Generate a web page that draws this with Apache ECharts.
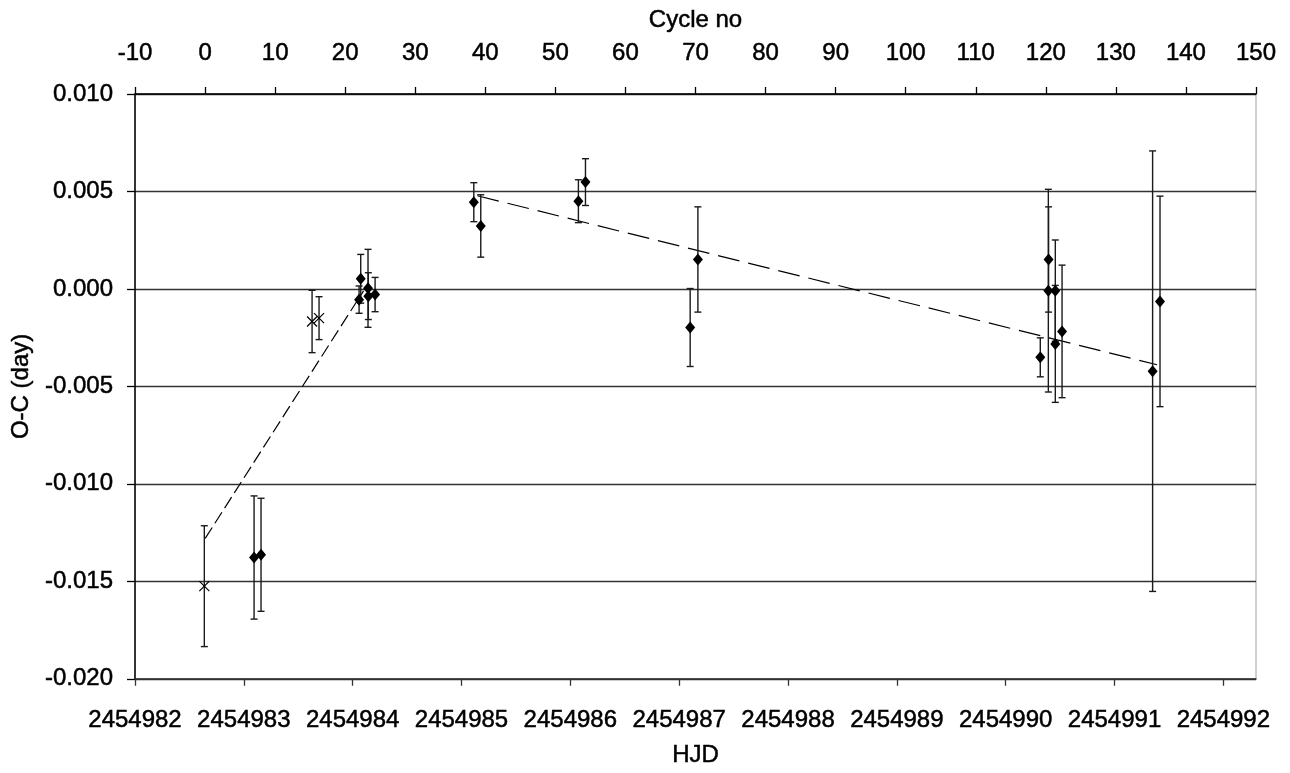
<!DOCTYPE html>
<html>
<head>
<meta charset="utf-8">
<script src="https://cdn.jsdelivr.net/npm/echarts@6/dist/echarts.min.js"></script>
<style>
html,body{margin:0;padding:0;background:#fff;}
#c{width:1290px;height:773px;}
</style>
</head>
<body>
<div id="c"></div>
<script>
// ---- data ----
const diamondHJD = [2454983.094, 2454983.158, 2454984.074, 2454984.059, 2454984.141, 2454984.144, 2454984.206,
  2454985.113, 2454985.177, 2454986.074, 2454986.139, 2454987.101, 2454987.172,
  2454990.318, 2454990.394, 2454990.392, 2454990.456, 2454990.456, 2454990.518, 2454991.350, 2454991.418];
const diamondOC = [-0.01378, -0.01364, 0.00052, -0.00055, 0.00003, -0.00037, -0.00029,
  0.00445, 0.00323, 0.00450, 0.00548, -0.00198, 0.00151,
  -0.00351, 0.00151, -0.00009, -0.00009, -0.00282, -0.00218, -0.00422, -0.00064];
const diamondErr = [0.00316, 0.0029, 0.00125, 0.0007, 0.0020, 0.0012, 0.00088,
  0.0010, 0.0016, 0.0011, 0.0012, 0.0020, 0.0027,
  0.0010, 0.0027, 0.0052, 0.0026, 0.0030, 0.0034, 0.0113, 0.0054];
const crossHJD = [2454982.637, 2454983.627, 2454983.691];
const crossOC = [-0.01525, -0.00167, -0.00150];
const crossErr = [0.0031, 0.0016, 0.0011];
const fit1HJD = [2454982.645, 2454984.10];
const fit1OC = [-0.0128, -0.0001];
const fit2HJD = [2454985.146, 2454991.391];
const fit2OC = [0.00478, -0.00389];
const hjdTicks = [2454982, 2454992.3, 1];   // min, max, interval
const cycleTicks = [-10, 150, 10];
const ocTicks = [-0.02, 0.01, 0.005];

// ---- build ----
const FONT = 'Liberation Sans, Arial, sans-serif';
const FS = 24;
const zip = (a, b) => a.map((v, i) => [v, b[i]]);
const errData = diamondHJD.map((x, i) => [x, diamondOC[i] - diamondErr[i], diamondOC[i] + diamondErr[i]])
  .concat(crossHJD.map((x, i) => [x, crossOC[i] - crossErr[i], crossOC[i] + crossErr[i]]));

const chart = echarts.init(document.getElementById('c'), null, {renderer: 'canvas'});
const axisTxt = {color: '#000', fontFamily: FONT, fontSize: FS, textBorderColor: '#000', textBorderWidth: 0.5};
chart.setOption({
  animation: false,
  backgroundColor: '#fff',
  grid: {left: 135, right: 34, top: 94, bottom: 87, show: true, borderColor: '#a0a0a0', borderWidth: 1, backgroundColor: 'transparent'},
  xAxis: [{
    type: 'value', position: 'bottom', min: hjdTicks[0], max: hjdTicks[1], interval: hjdTicks[2],
    name: 'HJD', nameLocation: 'middle', nameGap: 65, nameTextStyle: axisTxt,
    axisLine: {show: true, onZero: false, lineStyle: {color: '#333', width: 1.5}},
    axisTick: {show: true, length: 7, lineStyle: {color: '#333', width: 1.3}},
    axisLabel: Object.assign({margin: 30, showMaxLabel: false,
      formatter: v => (Math.abs(v - Math.round(v)) < 1e-6 ? String(Math.round(v)) : '')}, axisTxt),
    splitLine: {show: false}
  }, {
    type: 'value', position: 'top', min: cycleTicks[0], max: cycleTicks[1], interval: cycleTicks[2],
    name: 'Cycle no', nameLocation: 'middle', nameGap: 62, nameTextStyle: axisTxt,
    axisLine: {show: true, onZero: false, lineStyle: {color: '#000', width: 1.5}},
    axisTick: {show: true, length: 7, lineStyle: {color: '#000', width: 1.3}},
    axisLabel: Object.assign({margin: 29, formatter: v => String(Math.round(v))}, axisTxt),
    splitLine: {show: false}
  }],
  yAxis: [{
    type: 'value', min: ocTicks[0], max: ocTicks[1], interval: ocTicks[2],
    name: 'O-C (day)', nameLocation: 'middle', nameGap: 100, nameRotate: 90, nameTextStyle: axisTxt,
    axisLine: {show: true, onZero: false, lineStyle: {color: '#000', width: 1.5}},
    axisTick: {show: true, length: 8, lineStyle: {color: '#000', width: 1.3}},
    axisLabel: Object.assign({margin: 22, formatter: v => {
      const s = v.toFixed(3); return s === '-0.000' ? '0.000' : s; }}, axisTxt),
    splitLine: {show: true, lineStyle: {color: '#333', width: 1.4}}
  }],
  series: [{
    type: 'custom', xAxisIndex: 0, yAxisIndex: 0, z: 3,
    data: errData,
    encode: {x: 0, y: [1, 2]},
    renderItem: (params, api) => {
      const x = api.value(0);
      const lo = api.coord([x, api.value(1)]);
      const hi = api.coord([x, api.value(2)]);
      const w = 3.5;
      const st = {stroke: '#1a1a1a', lineWidth: 1.4};
      return {type: 'group', children: [
        {type: 'line', shape: {x1: lo[0], y1: lo[1], x2: hi[0], y2: hi[1]}, style: st},
        {type: 'line', shape: {x1: lo[0] - w, y1: lo[1], x2: lo[0] + w, y2: lo[1]}, style: st},
        {type: 'line', shape: {x1: hi[0] - w, y1: hi[1], x2: hi[0] + w, y2: hi[1]}, style: st}
      ]};
    }
  }, {
    type: 'line', xAxisIndex: 0, data: zip(fit1HJD, fit1OC), symbol: 'none', z: 2,
    lineStyle: {color: '#000', width: 1.2, type: [13, 5]}
  }, {
    type: 'line', xAxisIndex: 0, data: zip(fit2HJD, fit2OC), symbol: 'none', z: 2,
    lineStyle: {color: '#000', width: 1.2, type: [22, 9]}
  }, {
    type: 'scatter', xAxisIndex: 0, data: zip(diamondHJD, diamondOC), symbol: 'diamond', symbolSize: [10, 12], z: 5,
    itemStyle: {color: '#000', opacity: 1}
  }, {
    type: 'scatter', xAxisIndex: 0, data: zip(crossHJD, crossOC), symbol: 'path://M0,0L10,10M10,0L0,10', symbolSize: 10, z: 5,
    itemStyle: {color: 'none', borderColor: '#000', borderWidth: 1.2, opacity: 1}
  }]
});
</script>
</body>
</html>
